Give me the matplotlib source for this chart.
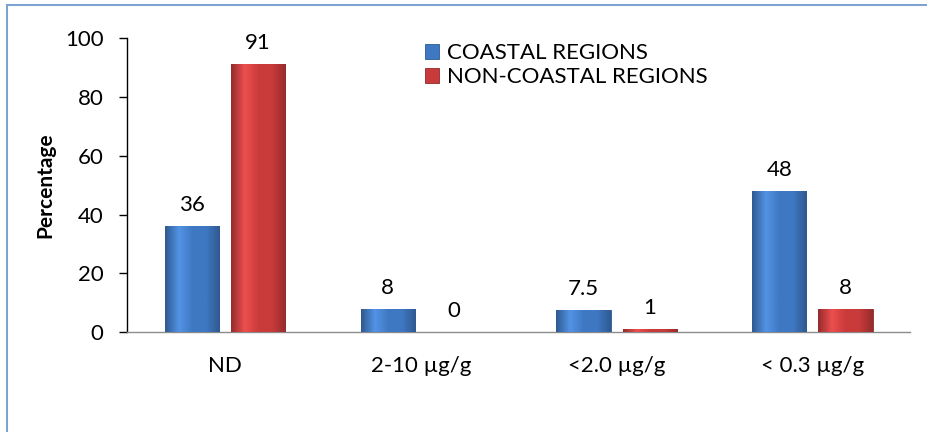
import numpy as np
import matplotlib.pyplot as plt
from matplotlib.patches import Rectangle
from matplotlib.colors import LinearSegmentedColormap

plt.rcParams['font.family'] = ['Lato', 'DejaVu Sans']

# data
categories = ['ND', '2-10 µg/g', '<2.0 µg/g', '< 0.3 µg/g']
coastal = [36, 8, 7.5, 48]
non_coastal = [91, 0, 1, 8]
series_names = ['COASTAL REGIONS', 'NON-COASTAL REGIONS']

blue = '#3f78c2'
red = '#c93b3b'
fs = 16

fig = plt.figure(figsize=(9.27, 4.32), dpi=100)
ax = fig.add_axes([0.137, 0.231, 0.845, 0.681])

x = np.arange(len(categories))
w = 0.276
off = 0.169


def grad_bars(bars, base):
    # fake the excel bevel with a horizontal gradient clipped to each bar
    c = np.array(plt.matplotlib.colors.to_rgb(base))
    dark = c * 0.75
    light = np.clip(c * 1.12 + 0.05, 0, 1)
    cmap = LinearSegmentedColormap.from_list('g', [dark, light, c, c, dark])
    grad = np.linspace(0, 1, 64).reshape(1, -1)
    for b in bars:
        h = b.get_height()
        if h <= 0:
            continue
        x0 = b.get_x()
        im = ax.imshow(grad, extent=[x0, x0 + b.get_width(), 0, h],
                       aspect='auto', cmap=cmap, zorder=3)
        im.set_clip_path(b)


b1 = ax.bar(x - off, coastal, w, color=blue, edgecolor='#2c5a94',
            linewidth=0.6, label=series_names[0], zorder=2)
b2 = ax.bar(x + off, non_coastal, w, color=red, edgecolor='#8f2a2a',
            linewidth=0.6, label=series_names[1], zorder=2)
grad_bars(b1, blue)
grad_bars(b2, red)

for bars, vals in [(b1, coastal), (b2, non_coastal)]:
    for b, v in zip(bars, vals):
        ax.annotate(f'{v:g}', (b.get_x() + b.get_width() / 2, v),
                    xytext=(0, 8), textcoords='offset points',
                    ha='center', va='bottom', fontsize=fs)

ax.set_xlim(-0.5, 3.5)
ax.set_ylim(0, 100)
ax.set_yticks([0, 20, 40, 60, 80, 100])
ax.set_xticks(x)
ax.set_xticklabels(categories)
ax.tick_params(axis='y', labelsize=fs, length=6, width=1, direction='out', pad=11)
ax.tick_params(axis='x', labelsize=fs, length=0, pad=17)

for s in ['top', 'right']:
    ax.spines[s].set_visible(False)
ax.spines['left'].set_linewidth(1)
ax.spines['bottom'].set_color('#8c8c8c')
ax.spines['bottom'].set_linewidth(1)

ax.set_ylabel('Percentage', fontsize=15, fontweight='bold', labelpad=7)

ax.legend(loc='upper left', bbox_to_anchor=(0.36, 1.035), frameon=False,
          fontsize=fs, handlelength=0.65, handleheight=0.65,
          handletextpad=0.35, labelspacing=0.18, borderpad=0.2)

# chart border (only top and left edges fall inside the crop)
fig.patches.append(Rectangle((0.0075, -0.1), 1.1, 1.088,
                             transform=fig.transFigure, fill=False,
                             edgecolor='#7ea3d3', linewidth=1.5))

fig.savefig('out.png', dpi=100)
